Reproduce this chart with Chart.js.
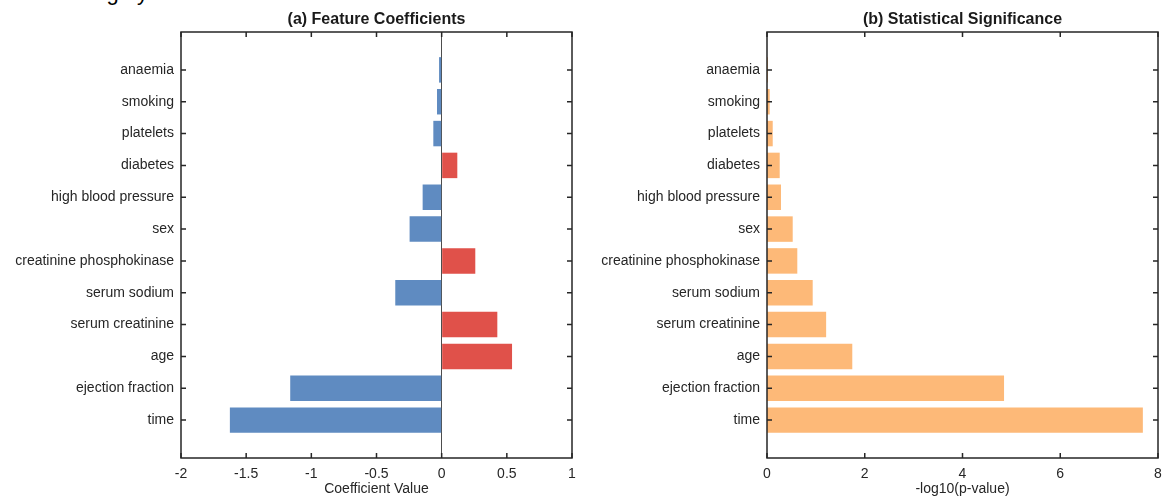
<!DOCTYPE html>
<html>
<head>
<meta charset="utf-8">
<script src="https://cdn.jsdelivr.net/npm/chart.js@4.4.0/dist/chart.umd.min.js"></script>
<style>
  html, body { margin: 0; padding: 0; background: #fff; overflow: hidden; }
  #wrap { position: relative; width: 1162px; height: 498px; overflow: hidden; }
  .panel { position: absolute; top: 0; width: 581px; height: 498px; }
  #left { left: 0; }
  #right { left: 581px; }
  #sup { position: absolute; left: 38px; top: -20px; line-height: 22px; font: 22px "Liberation Sans", Arial, sans-serif; color: #000; white-space: nowrap; }
</style>
</head>
<body>
<div id="wrap">
  <div id="sup">Ranking by</div>
  <div class="panel" id="left"><canvas id="coefChart"></canvas></div>
  <div class="panel" id="right"><canvas id="sigChart"></canvas></div>
</div>
<script>
// features, top to bottom as shown
const categories = ["anaemia", "smoking", "platelets", "diabetes", "high blood pressure", "sex",
  "creatinine phosphokinase", "serum sodium", "serum creatinine", "age", "ejection fraction", "time"];
const coefficients = [-0.02, -0.036, -0.064, 0.12, -0.146, -0.246, 0.258, -0.356, 0.427, 0.54, -1.162, -1.625];
const negLog10P = [0.02, 0.055, 0.117, 0.26, 0.287, 0.526, 0.62, 0.935, 1.21, 1.745, 4.85, 7.69];
const coefTicks = [-2, -1.5, -1, -0.5, 0, 0.5, 1];
const sigTicks = [0, 2, 4, 6, 8];

const BLUE = "#5f8bc1";
const RED = "#e0514a";
const ORANGE = "#fdb978";
const INK = "#262626";

Chart.defaults.font.family = '"Liberation Sans", Arial, sans-serif';
Chart.defaults.font.size = 14;
Chart.defaults.color = INK;

const pos = (i) => categories.length - i;   // time at 1, anaemia at 12

// box round the axes + inward ticks + panel title
const frame = {
  id: "frame",
  afterDatasetsDraw(chart, args, opts) {
    const { ctx, chartArea: a, scales } = chart;
    const t = 5;
    ctx.save();
    ctx.strokeStyle = INK;
    ctx.lineWidth = 1.5;
    ctx.strokeRect(a.left, a.top, a.right - a.left, a.bottom - a.top);
    ctx.beginPath();
    scales.x.ticks.forEach(tk => {
      const px = scales.x.getPixelForValue(tk.value);
      ctx.moveTo(px, a.bottom); ctx.lineTo(px, a.bottom - t);
      ctx.moveTo(px, a.top); ctx.lineTo(px, a.top + t);
    });
    scales.y.ticks.forEach(tk => {
      const py = scales.y.getPixelForValue(tk.value);
      ctx.moveTo(a.left, py); ctx.lineTo(a.left + t, py);
      ctx.moveTo(a.right, py); ctx.lineTo(a.right - t, py);
    });
    ctx.stroke();
    ctx.fillStyle = "#1a1a1a";
    ctx.font = 'bold 16px "Liberation Sans", Arial, sans-serif';
    ctx.textAlign = "center";
    ctx.textBaseline = "middle";
    ctx.fillText(opts.text, (a.left + a.right) / 2, a.top - 12);
    ctx.restore();
  }
};

function makeChart(id, values, colors, ticks, xmin, xmax, xTitle, title, yWidth, padRight, zeroLine) {
  return new Chart(document.getElementById(id), {
    type: "bar",
    data: {
      datasets: [{
        data: values.map((v, i) => ({ x: v, y: pos(i) })),
        backgroundColor: colors,
        borderWidth: 0,
        categoryPercentage: 0.8,
        barPercentage: 1.0
      }]
    },
    options: {
      indexAxis: "y",
      responsive: true,
      maintainAspectRatio: false,
      animation: false,
      layout: { padding: { top: 32, right: padRight, left: 0, bottom: 0 } },
      plugins: {
        legend: { display: false },
        tooltip: { enabled: false },
        frame: { text: title }
      },
      scales: {
        x: {
          type: "linear",
          min: xmin,
          max: xmax,
          afterBuildTicks: (s) => { s.ticks = ticks.map(v => ({ value: v })); },
          afterFit: (s) => { s.height = 40; s.paddingLeft = 0; s.paddingRight = 0; },
          ticks: { padding: 8, color: INK, callback: (v) => String(v) },
          grid: {
            display: zeroLine,
            drawTicks: false,
            lineWidth: 1,
            color: (c) => (c.tick && c.tick.value === 0) ? "#4d4d4d" : "rgba(0,0,0,0)"
          },
          border: { display: false },
          title: { display: true, text: xTitle, color: INK, padding: { top: 0, bottom: 0 } }
        },
        y: {
          type: "linear",
          offset: false,
          min: -0.19,
          max: categories.length + 1.19,
          afterBuildTicks: (s) => { s.ticks = categories.map((c, i) => ({ value: pos(i) })); },
          afterFit: (s) => { s.width = yWidth; s.paddingTop = 0; s.paddingBottom = 0; },
          ticks: { padding: 7, color: INK, autoSkip: false, callback: (v) => categories[categories.length - v] },
          grid: { display: false, drawTicks: false },
          border: { display: false }
        }
      }
    },
    plugins: [frame]
  });
}

makeChart("coefChart", coefficients, coefficients.map(v => v > 0 ? RED : BLUE),
  coefTicks, -2, 1, "Coefficient Value", "(a) Feature Coefficients", 181, 9, true);
makeChart("sigChart", negLog10P, ORANGE,
  sigTicks, 0, 8, "-log10(p-value)", "(b) Statistical Significance", 186, 4, false);
</script>
</body>
</html>
